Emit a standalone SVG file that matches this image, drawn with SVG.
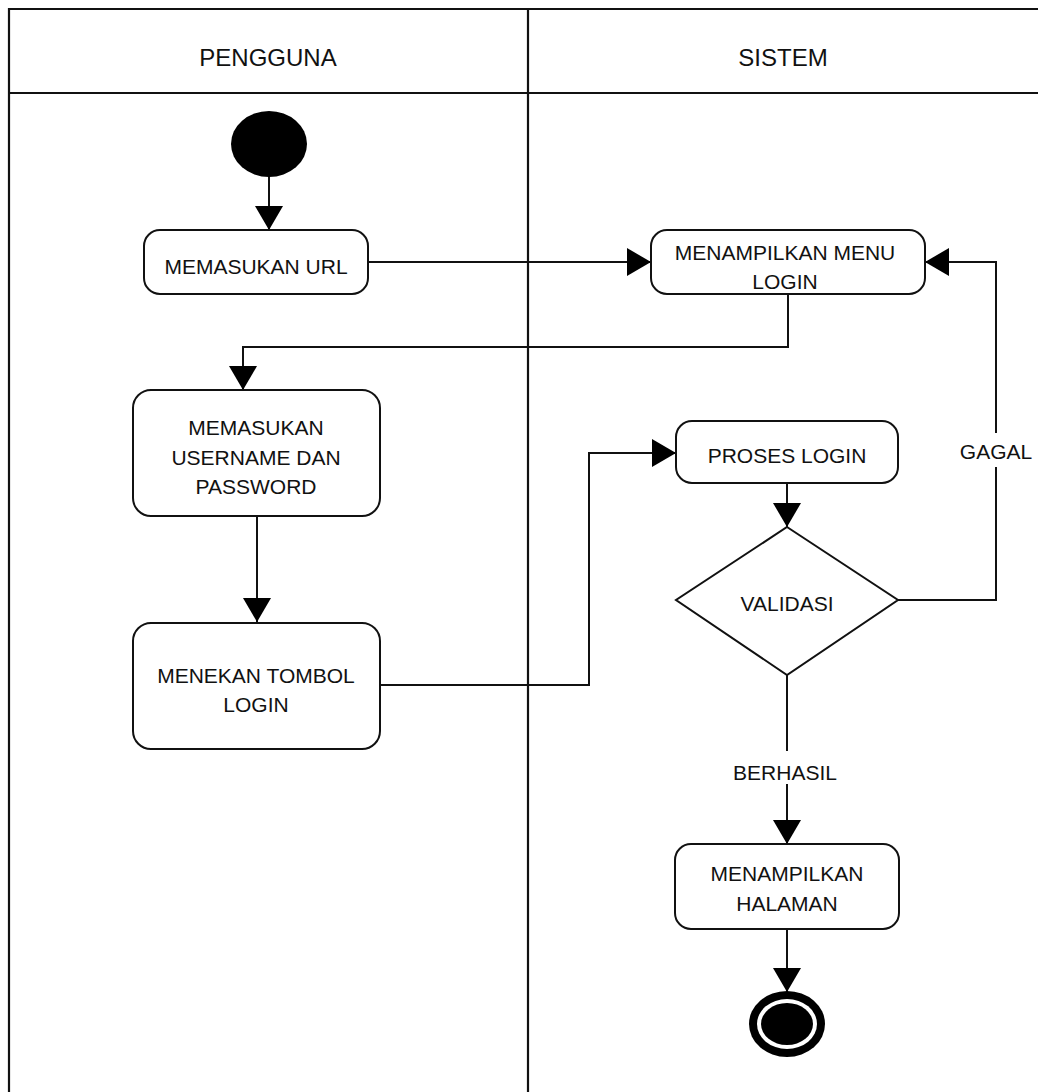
<svg xmlns="http://www.w3.org/2000/svg" width="1038" height="1092" viewBox="0 0 1038 1092">
<style>
.frame{fill:none;stroke:#111;stroke-width:2.2}
.box{fill:#fff;stroke:#111;stroke-width:2}
.edge{fill:none;stroke:#111;stroke-width:2}
.t{font-family:"Liberation Sans",Arial,sans-serif;font-size:21px;fill:#111;text-anchor:middle;dominant-baseline:central}
.h{font-family:"Liberation Sans",Arial,sans-serif;font-size:24px;fill:#111;text-anchor:middle;dominant-baseline:central}
</style>
<defs>
<marker id="ah" markerWidth="24" markerHeight="28" refX="24" refY="14" orient="auto" markerUnits="userSpaceOnUse">
<path d="M0,0 L24,14 L0,28 Z" fill="#000"/>
</marker>
</defs>
<rect x="0" y="0" width="1038" height="1092" fill="#fff"/>
<g id="lanes">
<path class="frame" d="M9,1092 V9 H1038"/>
<path class="frame" d="M9,93 H1038"/>
<path class="frame" d="M528,9 V1092"/>
<text class="h" x="268" y="57">PENGGUNA</text>
<text class="h" x="783" y="57">SISTEM</text>
</g>
<g id="connectors">
<path class="edge" d="M269,176 V230" marker-end="url(#ah)"/>
<path class="edge" d="M368,262 H651" marker-end="url(#ah)"/>
<path class="edge" d="M788,294 V347 H243 V390" marker-end="url(#ah)"/>
<path class="edge" d="M257,516 V622" marker-end="url(#ah)"/>
<path class="edge" d="M380,685 H589 V453 H676" marker-end="url(#ah)"/>
<path class="edge" d="M787,483 V527" marker-end="url(#ah)"/>
<path class="edge" d="M898,600 H996 V467"/>
<path class="edge" d="M996,433 V262 H925" marker-end="url(#ah)"/>
<text class="t" x="996" y="451">GAGAL</text>
<path class="edge" d="M787,675 V751"/>
<path class="edge" d="M787,784 V844" marker-end="url(#ah)"/>
<text class="t" x="785" y="772">BERHASIL</text>
<path class="edge" d="M787,929 V992" marker-end="url(#ah)"/>
</g>
<g id="start">
<ellipse cx="269" cy="144" rx="38" ry="33" fill="#000"/>
</g>
<g id="memasukan-url">
<rect class="box" x="144" y="230" width="224" height="64" rx="16"/>
<text class="t" x="256" y="266">MEMASUKAN URL</text>
</g>
<g id="menampilkan-menu-login">
<rect class="box" x="651" y="230" width="274" height="64" rx="16"/>
<text class="t" x="785" y="252">MENAMPILKAN MENU</text>
<text class="t" x="785" y="281">LOGIN</text>
</g>
<g id="memasukan-username">
<rect class="box" x="133" y="390" width="247" height="126" rx="18"/>
<text class="t" x="256" y="427">MEMASUKAN</text>
<text class="t" x="256" y="457">USERNAME DAN</text>
<text class="t" x="256" y="486">PASSWORD</text>
</g>
<g id="menekan-tombol-login">
<rect class="box" x="133" y="623" width="247" height="126" rx="18"/>
<text class="t" x="256" y="675">MENEKAN TOMBOL</text>
<text class="t" x="256" y="704">LOGIN</text>
</g>
<g id="proses-login">
<rect class="box" x="676" y="421" width="222" height="62" rx="16"/>
<text class="t" x="787" y="455">PROSES LOGIN</text>
</g>
<g id="validasi">
<path class="box" d="M787,527 L898,600 L787,675 L676,600 Z"/>
<text class="t" x="787" y="603">VALIDASI</text>
</g>
<g id="menampilkan-halaman">
<rect class="box" x="675" y="844" width="224" height="85" rx="16"/>
<text class="t" x="787" y="873">MENAMPILKAN</text>
<text class="t" x="787" y="903">HALAMAN</text>
</g>
<g id="end">
<ellipse cx="787" cy="1024" rx="38" ry="33" fill="#000"/>
<ellipse cx="787" cy="1024" rx="30" ry="25" fill="#fff"/>
<ellipse cx="787" cy="1024" rx="26" ry="21" fill="#000"/>
</g>
</svg>
